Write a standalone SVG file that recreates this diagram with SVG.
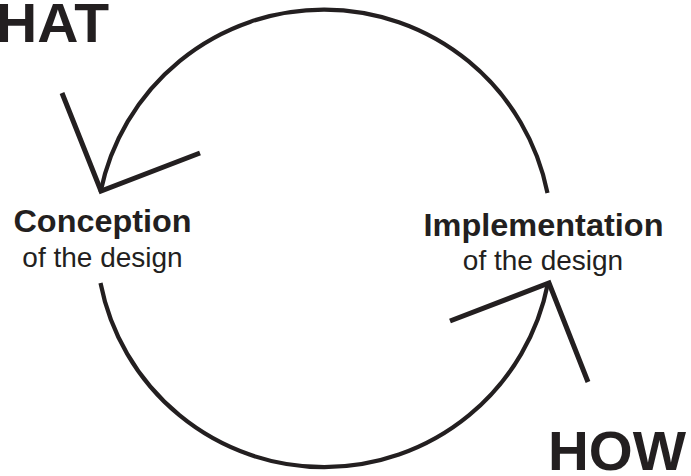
<svg xmlns="http://www.w3.org/2000/svg" width="691" height="476" viewBox="0 0 691 476">
<style>
.arc{fill:none;stroke:#231f20;stroke-width:4.2}
.head{fill:none;stroke:#231f20;stroke-width:5;stroke-linecap:butt;stroke-linejoin:miter}
.big{font-family:"Liberation Sans",Arial,sans-serif;font-weight:bold;font-size:56px;fill:#231f20}
.title{font-family:"Liberation Sans",Arial,sans-serif;font-weight:bold;font-size:32px;fill:#231f20;text-anchor:middle}
.sub{font-family:"Liberation Sans",Arial,sans-serif;font-size:28px;fill:#231f20;text-anchor:middle}
</style>
<rect width="691" height="476" fill="#ffffff"/>
<g id="connectors">
<path class="arc" d="M547.5,193 A228,228 0 0 0 100.5,192"/>
<path class="arc" d="M100.5,283 A228,228 0 0 0 548,283"/>
<polyline class="head" points="62,93 101,191 200,153"/>
<polyline class="head" points="450,321 549,283 588,382"/>
</g>
<g id="what">
<text class="big" x="-4" y="42" textLength="113" lengthAdjust="spacingAndGlyphs">HAT</text>
</g>
<g id="how">
<text class="big" x="548" y="470" textLength="138" lengthAdjust="spacingAndGlyphs">HOW</text>
</g>
<g id="conception">
<text class="title" x="102.5" y="232" textLength="178" lengthAdjust="spacingAndGlyphs">Conception</text>
<text class="sub" x="102.5" y="267">of the design</text>
</g>
<g id="implementation">
<text class="title" x="543.5" y="236" textLength="240" lengthAdjust="spacingAndGlyphs">Implementation</text>
<text class="sub" x="543" y="270">of the design</text>
</g>
</svg>
